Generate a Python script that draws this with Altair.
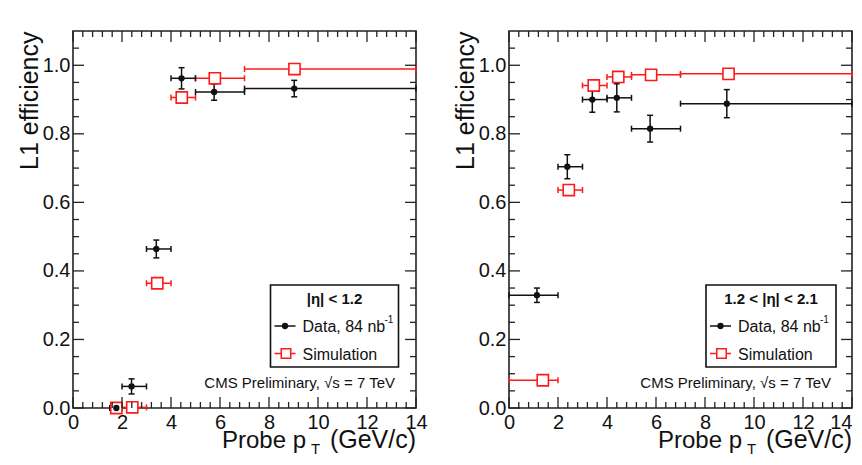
import altair as alt
import pandas as pd

# ---------------- data ----------------
# left panel: |eta| < 1.2
L_bin_lo = [1.5, 2.0, 3.0, 4.0, 5.0, 7.0]
L_bin_hi = [2.0, 3.0, 4.0, 5.0, 7.0, 14.0]
L_data_pt = [1.77, 2.39, 3.40, 4.43, 5.76, 9.03]
L_data_eff = [0.000, 0.063, 0.464, 0.962, 0.922, 0.932]
L_data_err = [0.004, 0.022, 0.026, 0.031, 0.024, 0.024]
L_sim_pt = [1.77, 2.42, 3.44, 4.44, 5.79, 9.04]
L_sim_eff = [0.000, 0.002, 0.364, 0.906, 0.962, 0.989]

# right panel: 1.2 < |eta| < 2.1
R_bin_lo = [0.0, 2.0, 3.0, 4.0, 5.0, 7.0]
R_bin_hi = [2.0, 3.0, 4.0, 5.0, 7.0, 14.0]
R_data_pt = [1.14, 2.38, 3.40, 4.40, 5.76, 8.89]
R_data_eff = [0.329, 0.704, 0.900, 0.905, 0.815, 0.888]
R_data_err = [0.021, 0.035, 0.037, 0.041, 0.039, 0.041]
R_sim_pt = [1.38, 2.44, 3.46, 4.46, 5.80, 8.96]
R_sim_eff = [0.081, 0.636, 0.941, 0.966, 0.972, 0.975]

x_major = [0, 2, 4, 6, 8, 10, 12, 14]
x_minor = [round(0.4 * i, 1) for i in range(1, 35) if i % 5 != 0]
y_major = [0.0, 0.2, 0.4, 0.6, 0.8, 1.0]
y_minor = [round(0.05 * i, 2) for i in range(1, 22) if i % 4 != 0]

legend_titles = ["|\u03b7| < 1.2", "1.2 < |\u03b7| < 2.1"]
data_label = "Data, 84 nb"
sim_label = "Simulation"
cms_label = "CMS Preliminary,  \u221as = 7 TeV"

# ---------------- style ----------------
W, H = 343, 377
RED = "#ff1a1a"
BLK = "#111111"
FRAME = "#222222"
FONT = "Liberation Sans"
MAJ, MIN = 11, 6

xs = alt.Scale(domain=[0, 14], nice=False, zero=False)
ys = alt.Scale(domain=[0, 1.1], nice=False, zero=False)


def make_xax(last_right):
    align = alt.ConditionalAxisLabelAlign(
        condition={"test": "datum.value == 14", "value": "right"}, value="center"
    ) if last_right else "center"
    return alt.Axis(values=x_major, title=None, labelFontSize=20, labelPadding=4,
                    labelFlush=False, labelOverlap=False, ticks=False, domain=False,
                    grid=False, labelColor=BLK, labelFont=FONT, labelAlign=align)


yax = alt.Axis(values=y_major, format=".1f", title="L1 efficiency",
               titleFontSize=25, titleFont=FONT, titleFontWeight="normal",
               titleColor=BLK, titleAngle=-90, titleAlign="right",
               titleBaseline="alphabetic", titleX=-36, titleY=0,
               labelFontSize=20, labelPadding=3, labelFlush=False,
               labelOverlap=False, ticks=False, domain=False, grid=False,
               labelColor=BLK, labelFont=FONT)


def one():
    return alt.Chart(pd.DataFrame({"a": [0]}))


def text(s, x, y, size=15, align="left", weight="normal", color=BLK):
    return one().mark_text(text=s, font=FONT, fontSize=size, align=align,
                           baseline="alphabetic", fontWeight=weight,
                           color=color).encode(x=alt.value(x), y=alt.value(y))


def panel(lo, hi, dpt, deff, derr, spt, seff, ltitle, lx0, lx1, last_right):
    xax = make_xax(last_right)

    def X(f):
        return alt.X(f, type="quantitative", scale=xs, axis=xax)

    def Y(f):
        return alt.Y(f, type="quantitative", scale=ys, axis=yax)

    d = pd.DataFrame({"pt": dpt, "eff": deff, "err": derr, "lo": lo, "hi": hi})
    s = pd.DataFrame({"pt": spt, "eff": seff, "lo": lo, "hi": hi})
    dc = alt.Chart(d).transform_calculate(elo="datum.eff - datum.err",
                                          ehi="datum.eff + datum.err")
    sc = alt.Chart(s)

    layers = []
    # simulation horizontal bars + caps
    layers.append(sc.mark_rule(color=RED, strokeWidth=1.5).encode(
        x=X("lo"), x2="hi", y=Y("eff")))
    layers.append(sc.transform_fold(["lo", "hi"], as_=["k", "cx"]).mark_tick(
        orient="vertical", size=6, thickness=1.5, color=RED, opacity=1).encode(
        x=X("cx"), y=Y("eff")))
    # data bars + caps
    layers.append(dc.mark_rule(color=BLK, strokeWidth=1.5).encode(
        x=X("lo"), x2="hi", y=Y("eff")))
    layers.append(dc.transform_fold(["lo", "hi"], as_=["k", "cx"]).mark_tick(
        orient="vertical", size=6, thickness=1.5, color=BLK, opacity=1).encode(
        x=X("cx"), y=Y("eff")))
    layers.append(dc.mark_rule(color=BLK, strokeWidth=1.5).encode(
        x=X("pt"), y=Y("elo"), y2="ehi:Q"))
    layers.append(dc.transform_fold(["elo", "ehi"], as_=["k", "cy"]).mark_tick(
        orient="horizontal", size=6, thickness=1.5, color=BLK, opacity=1).encode(
        x=X("pt"), y=Y("cy")))
    # markers
    layers.append(sc.mark_square(size=125, fill="white", stroke=RED,
                                 strokeWidth=1.6, opacity=1).encode(
        x=X("pt"), y=Y("eff")))
    layers.append(dc.mark_circle(size=40, color=BLK, opacity=1).encode(
        x=X("pt"), y=Y("eff")))

    # inward ticks on all four sides
    for vals, ln in ((x_major, MAJ), (x_minor, MIN)):
        base = alt.Chart(pd.DataFrame({"v": vals})).mark_rule(color=FRAME, strokeWidth=1.3)
        layers.append(base.encode(x=X("v"), y=alt.value(H), y2=alt.value(H - ln)))
        layers.append(base.encode(x=X("v"), y=alt.value(0), y2=alt.value(ln)))
    for vals, ln in ((y_major, MAJ), (y_minor, MIN)):
        base = alt.Chart(pd.DataFrame({"v": vals})).mark_rule(color=FRAME, strokeWidth=1.3)
        layers.append(base.encode(y=Y("v"), x=alt.value(0), x2=alt.value(ln)))
        layers.append(base.encode(y=Y("v"), x=alt.value(W), x2=alt.value(W - ln)))

    # legend box
    layers.append(one().mark_rect(fill="white", stroke=BLK, strokeWidth=1.6).encode(
        x=alt.value(lx0), x2=alt.value(lx1), y=alt.value(254), y2=alt.value(336)))
    layers.append(text(ltitle, (lx0 + lx1) / 2, 273, size=15, align="center",
                       weight="bold"))
    # data entry
    layers.append(one().mark_rule(color=BLK, strokeWidth=1.5).encode(
        x=alt.value(lx0 + 4), x2=alt.value(lx0 + 25), y=alt.value(295)))
    layers.append(one().mark_circle(size=40, color=BLK, opacity=1).encode(
        x=alt.value(lx0 + 14.5), y=alt.value(295)))
    layers.append(text(data_label, lx0 + 32, 301, size=16))
    layers.append(text("-1", lx0 + 114, 292, size=10))
    # simulation entry
    layers.append(one().mark_rule(color=RED, strokeWidth=1.5).encode(
        x=alt.value(lx0 + 4), x2=alt.value(lx0 + 25), y=alt.value(322.5)))
    layers.append(one().mark_square(size=90, fill="white", stroke=RED,
                                    strokeWidth=1.5, opacity=1).encode(
        x=alt.value(lx0 + 15.5), y=alt.value(322.5)))
    layers.append(text(sim_label, lx0 + 32, 329, size=16))
    # CMS label
    layers.append(text(cms_label, 322, 357, size=15, align="right"))
    # x title: Probe p_T (GeV/c)
    layers.append(text("(GeV/c)", W, 417, size=25, align="right"))
    layers.append(text("T", 238, 423, size=15))
    layers.append(text("Probe p", 233, 417, size=24, align="right"))

    return alt.layer(*layers).properties(width=W, height=H)


left = panel(L_bin_lo, L_bin_hi, L_data_pt, L_data_eff, L_data_err,
             L_sim_pt, L_sim_eff, legend_titles[0], 197.5, 325.5, False)
right = panel(R_bin_lo, R_bin_hi, R_data_pt, R_data_eff, R_data_err,
              R_sim_pt, R_sim_eff, legend_titles[1], 197, 327, True)

chart = alt.hconcat(left, right, spacing=93, bounds="flush").properties(
    padding={"left": 8, "top": 21, "right": 0, "bottom": 0},
    background="white",
).configure_view(stroke=FRAME, strokeWidth=1.6).configure_concat(spacing=93)

chart.save("out.html", embed_options={"renderer": "svg", "actions": False})
